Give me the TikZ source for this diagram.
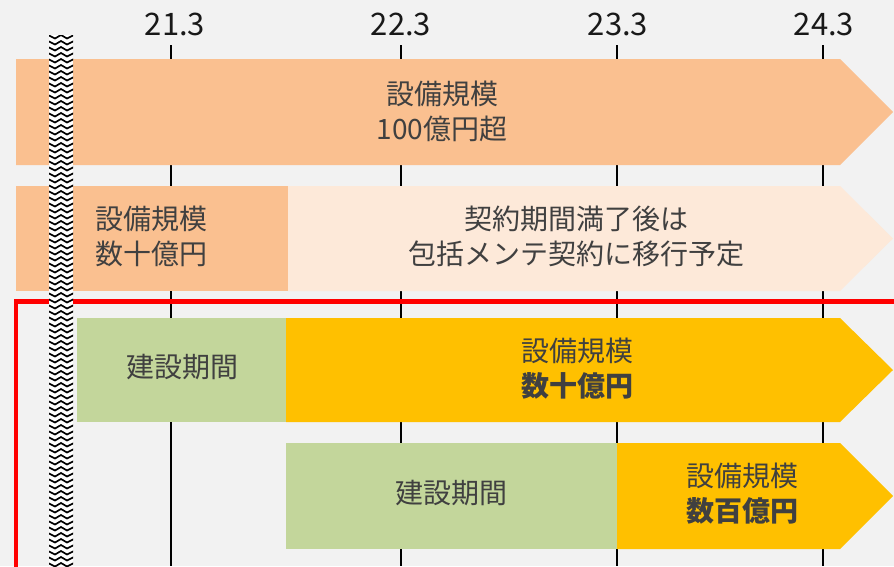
\documentclass[tikz,border=0pt]{standalone}
\usepackage{fontspec}
\setmainfont{Noto Sans CJK JP}
\usepackage{xcolor}
\definecolor{bggrey}{HTML}{F2F2F2}
\definecolor{peach}{HTML}{FAC090}
\definecolor{peachlight}{HTML}{FDE9D9}
\definecolor{buildgreen}{HTML}{C3D69B}
\definecolor{amber}{HTML}{FFC000}
\definecolor{textgrey}{HTML}{404040}
\usepackage{tikz}
\usetikzlibrary{positioning, calc}

\begin{document}
\begin{tikzpicture}[
    x=1pt, y=-1pt,
    font=\fontsize{28}{35}\selectfont,
    text=textgrey,
    tick/.style={draw=black, line width=2pt},
    ticklabel/.style={text=black!90, font=\fontsize{31}{36}\selectfont},
    barlabel/.style={align=center, text=textgrey},
    frame/.style={draw=red, line width=4.5pt},
    zig/.style={draw=black, line width=1.7pt}
]

% ── Canvas ──
\useasboundingbox (0,0) rectangle (894,566);
\fill[bggrey] (0,0) rectangle (894,566);

% ── Time axis ──
\node[ticklabel] (ax1) at (175,24) {21.3};
\node[ticklabel] (ax2) at (401,24) {22.3};
\node[ticklabel] (ax3) at (618,24) {23.3};
\node[ticklabel] (ax4) at (824,24) {24.3};
\draw[tick] (171,45) -- (171,566);
\draw[tick] (401,45) -- (401,566);
\draw[tick] (617,45) -- (617,566);
\draw[tick] (823,45) -- (823,566);

% ── Row 1 ──
\fill[peach] (16,59) -- (840,59) -- (893,112) -- (840,165) -- (16,165) -- cycle;

% ── Row 2 ──
\fill[peachlight] (288,186) -- (840,186) -- (893,238.5) -- (840,291) -- (288,291) -- cycle;
\fill[peach] (16,186) rectangle (288,291);

% ── Row 3 ──
\fill[buildgreen] (77,318) rectangle (289,422);
\fill[amber] (286,318) -- (840,318) -- (893,370) -- (840,422) -- (286,422) -- cycle;

% ── Row 4 ──
\fill[buildgreen] (286,443) rectangle (618,549);
\fill[amber] (617,443) -- (840,443) -- (893,496) -- (840,549) -- (617,549) -- cycle;

% ── Red frame ──
\draw[frame] (16,580) -- (16,301.5) -- (910,301.5);

% ── Break strip ──
\fill[white] (49,35) rectangle (73,566);
\begin{scope}
\clip (49,35) rectangle (73,566);
\foreach \yy in {35,41,...,566}
    \draw[zig] (48,\yy) -- (55,\yy+3.5) -- (61,\yy) -- (67,\yy+3.5) -- (74,\yy);
\end{scope}

% ── Labels ──
\node[barlabel] (big) at (442,111) {設備規模\\100億円超};
\node[barlabel, anchor=west, align=left] (small) at (92,236) {設備規模\\数十億円};
\node[barlabel] (shift) at (576,236) {契約期間満了後は\\包括メンテ契約に移行予定};
\node[barlabel] (build1) at (182,367) {建設期間};
\node[barlabel] (new1) at (577,369) {設備規模\\\textbf{数十億円}};
\node[barlabel] (build2) at (451,493) {建設期間};
\node[barlabel] (new2) at (742,494) {設備規模\\\textbf{数百億円}};
\end{tikzpicture}
\end{document}
